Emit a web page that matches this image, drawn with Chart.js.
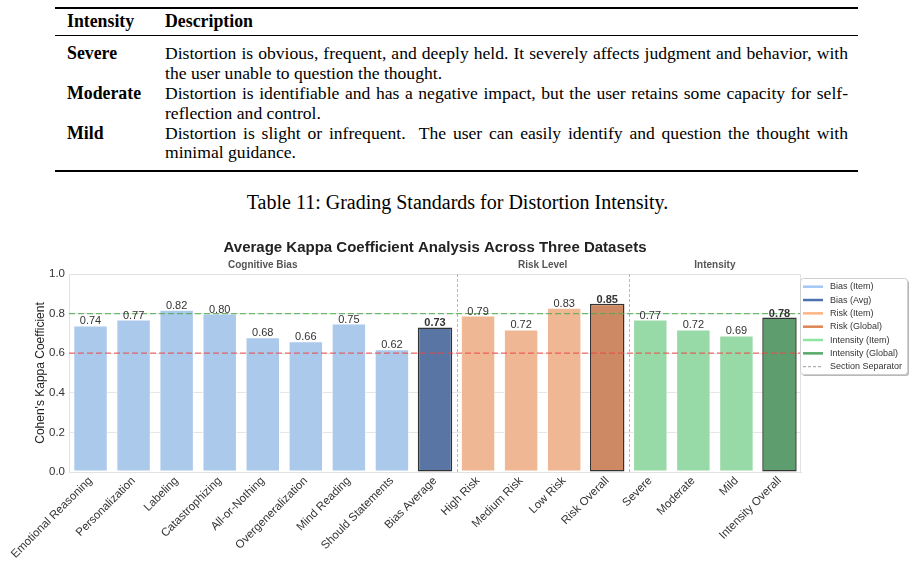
<!DOCTYPE html>
<html>
<head>
<meta charset="utf-8">
<script src="https://cdn.jsdelivr.net/npm/chart.js@4.4.1/dist/chart.umd.min.js"></script>
<style>
  html, body { margin: 0; padding: 0; background: #fff; }
  body {
    width: 915px; height: 566px; position: relative; overflow: hidden;
    font-family: "Liberation Serif", "Times New Roman", serif; color: #000;
  }
  .rule { position: absolute; left: 55px; width: 803px; background: #000; }
  .cell { position: absolute; font-size: 17.8px; line-height: 19.5px; white-space: nowrap; }
  .desc { position: absolute; left: 165px; width: 683px; font-size: 17.6px; line-height: 19.5px; }
  .desc .l1 { text-align: justify; text-align-last: justify; }
  .b { font-weight: bold; }
  #caption {
    position: absolute; left: 0; width: 915px; top: 191px;
    text-align: center; font-size: 20px; line-height: 22px;
  }
  #chartBox { position: absolute; left: 0; top: 230px; width: 915px; height: 336px; }
</style>
</head>
<body>

<!-- grading table -->
<div class="rule" style="top:7px;height:2px"></div>
<div class="cell b" style="left:67px;top:12px">Intensity</div>
<div class="cell b" style="left:165px;top:12px">Description</div>
<div class="rule" style="top:35px;height:1px"></div>

<div class="cell b" style="left:67px;top:44px">Severe</div>
<div class="desc" style="top:44px">
  <div class="l1">Distortion is obvious, frequent, and deeply held. It severely affects judgment and behavior, with</div>
  <div>the user unable to question the thought.</div>
</div>

<div class="cell b" style="left:67px;top:84px">Moderate</div>
<div class="desc" style="top:84px">
  <div class="l1">Distortion is identifiable and has a negative impact, but the user retains some capacity for self-</div>
  <div>reflection and control.</div>
</div>

<div class="cell b" style="left:67px;top:123.5px">Mild</div>
<div class="desc" style="top:123.5px">
  <div class="l1">Distortion is slight or infrequent.&nbsp; The user can easily identify and question the thought with</div>
  <div>minimal guidance.</div>
</div>
<div class="rule" style="top:170px;height:2px"></div>

<div id="caption">Table 11: Grading Standards for Distortion Intensity.</div>

<div id="chartBox"><canvas id="kappaChart" width="915" height="336"></canvas></div>

<script>
// Kappa bar chart: three sections, reference lines, custom legend.

var CATEGORIES = [
  "Emotional Reasoning", "Personalization", "Labeling", "Catastrophizing",
  "All-or-Nothing", "Overgeneralization", "Mind Reading", "Should Statements",
  "Bias Average", "High Risk", "Medium Risk", "Low Risk", "Risk Overall",
  "Severe", "Moderate", "Mild", "Intensity Overall"
];
var KAPPA = [0.74, 0.77, 0.82, 0.80, 0.68, 0.66, 0.75, 0.62, 0.73,
             0.79, 0.72, 0.83, 0.85, 0.77, 0.72, 0.69, 0.78];
var BAR_KIND = [
  "biasItem", "biasItem", "biasItem", "biasItem", "biasItem", "biasItem", "biasItem", "biasItem",
  "biasAvg", "riskItem", "riskItem", "riskItem", "riskGlobal",
  "intItem", "intItem", "intItem", "intGlobal"
];

var SECTION_NAMES = ["Cognitive Bias", "Risk Level", "Intensity"];
var SECTION_START = [0, 9, 13];
var SECTION_END   = [8, 12, 16];

var REF_VALUES = [0.8, 0.6];
var REF_COLORS = ["rgba(80,170,80,0.8)", "rgba(235,70,70,0.8)"];

var LEGEND_LABELS = ["Bias (Item)", "Bias (Avg)", "Risk (Item)", "Risk (Global)",
                     "Intensity (Item)", "Intensity (Global)", "Section Separator"];
var LEGEND_COLORS = ["#a1c9f4", "#4c72b0", "#ffb482", "#dd8452",
                     "#8de5a1", "#55a868", "#b0b0b0"];

var KIND_FILL = {
  biasItem: "#abc9eb", biasAvg: "#5875a4",
  riskItem: "#f0b794", riskGlobal: "#cd8963",
  intItem:  "#98d9a8", intGlobal:  "#5e9e6e"
};

function _isGlobal(kind) {
  return kind === "biasAvg" || kind === "riskGlobal" || kind === "intGlobal";
}

var SANS = '"Liberation Sans", Arial, Helvetica, sans-serif';
Chart.defaults.font.family = SANS;

var decorPlugin = {
  id: "decor",
  beforeDatasetsDraw: function(chart) {
    var ctx = chart.ctx, area = chart.chartArea, xs = chart.scales.x;
    ctx.save();
    // frame top / right
    ctx.strokeStyle = "#e2e2e2";
    ctx.lineWidth = 1;
    ctx.beginPath();
    ctx.moveTo(area.left, area.top + 0.5);
    ctx.lineTo(area.right - 0.5, area.top + 0.5);
    ctx.lineTo(area.right - 0.5, area.bottom);
    ctx.stroke();
    // section separators
    ctx.strokeStyle = "#b8b8b8";
    ctx.setLineDash([3, 2]);
    for (var i = 0; i < SECTION_END.length - 1; i++) {
      var sx = (xs.getPixelForValue(SECTION_END[i]) + xs.getPixelForValue(SECTION_START[i + 1])) / 2;
      sx = Math.round(sx) + 0.5;
      ctx.beginPath();
      ctx.moveTo(sx, area.top);
      ctx.lineTo(sx, area.bottom);
      ctx.stroke();
    }
    ctx.restore();
  },
  afterDatasetsDraw: function(chart) {
    var ctx = chart.ctx, area = chart.chartArea;
    var xs = chart.scales.x, ys = chart.scales.y;
    ctx.save();

    // reference lines
    ctx.lineWidth = 1.3;
    ctx.setLineDash([6, 3]);
    REF_VALUES.forEach(function(v, i) {
      var y = ys.getPixelForValue(v);
      ctx.strokeStyle = REF_COLORS[i];
      ctx.beginPath();
      ctx.moveTo(area.left, y);
      ctx.lineTo(area.right, y);
      ctx.stroke();
    });
    ctx.setLineDash([]);

    // value labels
    var meta = chart.getDatasetMeta(0);
    ctx.textAlign = "center";
    ctx.textBaseline = "alphabetic";
    ctx.fillStyle = "#333";
    meta.data.forEach(function(bar, i) {
      ctx.font = (_isGlobal(BAR_KIND[i]) ? "bold " : "") + "11px " + SANS;
      ctx.fillText(KAPPA[i].toFixed(2), bar.x, bar.y - 1);
    });

    // title
    ctx.fillStyle = "#222";
    ctx.font = "bold 15px " + SANS;
    ctx.textBaseline = "middle";
    ctx.fillText("Average Kappa Coefficient Analysis Across Three Datasets",
                 (area.left + area.right) / 2, 18);

    // section labels
    ctx.fillStyle = "#555";
    ctx.font = "bold 10px " + SANS;
    SECTION_NAMES.forEach(function(name, i) {
      var left  = i === 0 ? area.left  : (xs.getPixelForValue(SECTION_END[i - 1]) + xs.getPixelForValue(SECTION_START[i])) / 2;
      var right = i === SECTION_NAMES.length - 1 ? area.right
                : (xs.getPixelForValue(SECTION_END[i]) + xs.getPixelForValue(SECTION_START[i + 1])) / 2;
      ctx.fillText(name, (left + right) / 2, 35);
    });

    // legend
    var bx = 800, by = 48, bw = 107, bh = 96;
    ctx.fillStyle = "rgba(0,0,0,0.28)";
    ctx.beginPath();
    ctx.roundRect(bx + 2, by + 2, bw, bh, 3);
    ctx.fill();
    ctx.fillStyle = "#fff";
    ctx.strokeStyle = "#cfcfcf";
    ctx.lineWidth = 1;
    ctx.beginPath();
    ctx.roundRect(bx + 0.5, by + 0.5, bw, bh, 3);
    ctx.fill();
    ctx.stroke();

    ctx.font = "9px " + SANS;
    ctx.textAlign = "left";
    ctx.textBaseline = "middle";
    LEGEND_LABELS.forEach(function(label, i) {
      var ry = by + 8.7 + i * 13.33;
      ctx.strokeStyle = LEGEND_COLORS[i];
      if (i === LEGEND_LABELS.length - 1) {
        ctx.lineWidth = 1.2;
        ctx.setLineDash([3, 2]);
      } else {
        ctx.lineWidth = 2.5;
        ctx.setLineDash([]);
      }
      ctx.beginPath();
      ctx.moveTo(bx + 3, ry);
      ctx.lineTo(bx + 23, ry);
      ctx.stroke();
      ctx.setLineDash([]);
      ctx.fillStyle = "#333";
      ctx.fillText(label, bx + 30, ry);
    });

    ctx.restore();
  }
};

new Chart(document.getElementById("kappaChart"), {
  type: "bar",
  data: {
    labels: CATEGORIES,
    datasets: [{
      data: KAPPA,
      backgroundColor: BAR_KIND.map(function(k) { return KIND_FILL[k]; }),
      borderColor: BAR_KIND.map(function(k) { return _isGlobal(k) ? "#333" : "rgba(255,255,255,0.7)"; }),
      borderWidth: BAR_KIND.map(function(k) { return _isGlobal(k) ? 1.5 : 1; }),
      borderSkipped: false,
      barPercentage: 0.8,
      categoryPercentage: 1.0,
    }],
  },
  options: {
    responsive: false,
    animation: false,
    layout: { padding: { top: 44, right: 114, left: 0, bottom: 0 } },
    plugins: { legend: { display: false }, tooltip: { enabled: false } },
    scales: {
      x: {
        grid: { display: false, drawTicks: false },
        border: { color: "#e2e2e2" },
        ticks: {
          autoSkip: false, maxRotation: 45, minRotation: 45,
          color: "#333", font: { size: 11.5 }, padding: 2,
        },
        afterFit: function(s) { s.height = 94; },
      },
      y: {
        min: 0, max: 1,
        grid: { color: "#e6e6e6", drawTicks: false },
        border: { color: "#e2e2e2" },
        ticks: {
          stepSize: 0.2, padding: 4, color: "#333", font: { size: 11.5 },
          callback: function(v) { return Number(v).toFixed(1); },
        },
        title: {
          display: true, text: "Cohen's Kappa Coefficient", color: "#222",
          font: { size: 12 }, padding: { top: 33, bottom: 0 },
        },
        afterFit: function(s) { s.width = 69; },
      },
    },
  },
  plugins: [decorPlugin],
});
</script>
</body>
</html>
